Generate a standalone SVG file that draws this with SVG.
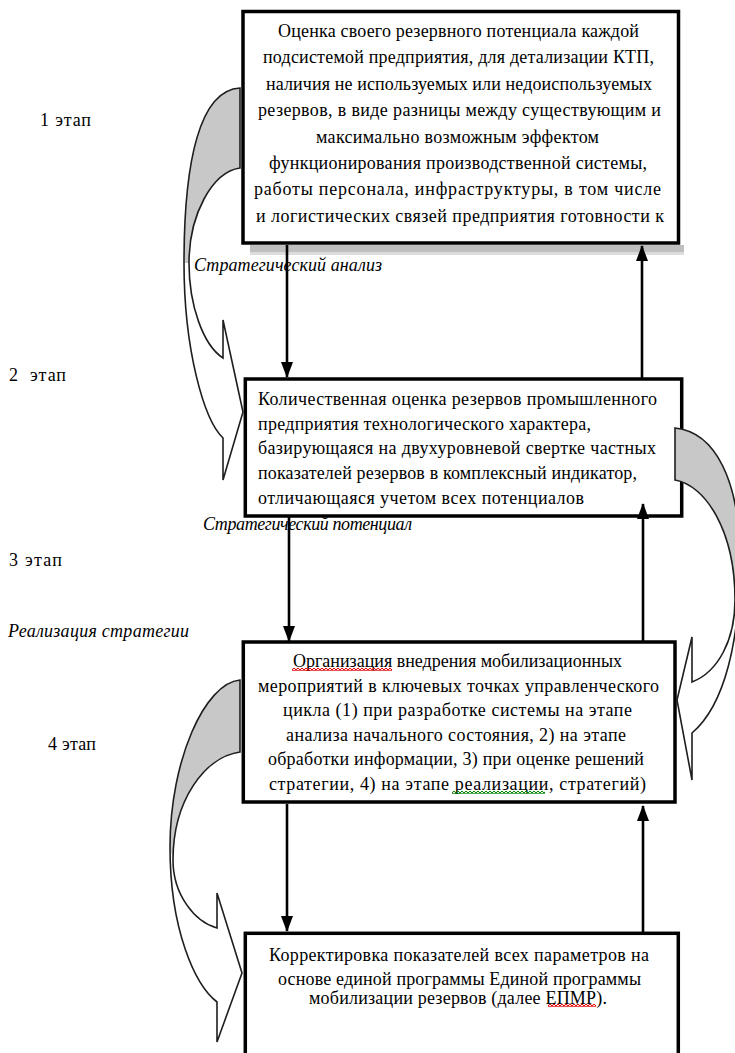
<svg xmlns="http://www.w3.org/2000/svg" width="735" height="1053" viewBox="0 0 735 1053" font-family="Liberation Serif, DejaVu Serif, serif">
<style>
.box{fill:#fff;stroke:#000;stroke-width:3.5}
.t{font-size:18px;fill:#000}
.it{font-style:italic}
.ribbon{fill:#c8c8c8;stroke:none}
.carrow{fill:none;stroke:#1e1e1e;stroke-width:1.6;stroke-linejoin:miter}
.vline{stroke:#000;stroke-width:2.6;fill:none;marker-end:url(#ah)}
</style>
<defs>
<marker id="ah" viewBox="0 0 16 12" refX="15" refY="6" markerWidth="16" markerHeight="12" markerUnits="userSpaceOnUse" orient="auto">
<path d="M0,0 L16,6 L0,12 Z" fill="#000"/>
</marker>
<pattern id="wavyR" width="4" height="3" patternUnits="userSpaceOnUse"><path d="M0,0 L2,3 L4,0" stroke="#e00000" stroke-width="1.2" fill="none"/></pattern>
<pattern id="wavyG" width="4" height="3" patternUnits="userSpaceOnUse"><path d="M0,0 L2,3 L4,0" stroke="#008000" stroke-width="1.2" fill="none"/></pattern>
</defs>
<rect width="735" height="1053" fill="#fff"/>

<g id="labels">
<text class="t" x="40" y="126" textLength="51" lengthAdjust="spacing">1 этап</text>
<text class="t" x="9" y="381" textLength="57" lengthAdjust="spacing" xml:space="preserve">2  этап</text>
<text class="t" x="9" y="566" textLength="53" lengthAdjust="spacing">3 этап</text>
<text class="t" x="48" y="750" textLength="48" lengthAdjust="spacing">4 этап</text>
<text class="t it" x="194" y="271" textLength="188" lengthAdjust="spacing">Стратегический анализ</text>
<text class="t it" x="203" y="530" textLength="209" lengthAdjust="spacing">Стратегический потенциал</text>
<text class="t it" x="8" y="637" textLength="181" lengthAdjust="spacing">Реализация стратегии</text>
</g>

<g id="box1">
<rect x="250" y="245" width="434" height="7" fill="#bfbfbf"/>
<rect x="250" y="252" width="434" height="3" fill="#dcdcdc"/>
<rect class="box" x="243" y="11.5" width="435.5" height="231.5"/>
<text class="t" x="278" y="37" textLength="361" lengthAdjust="spacing">Оценка своего резервного потенциала каждой</text>
<text class="t" x="263" y="63" textLength="391" lengthAdjust="spacing">подсистемой предприятия, для детализации КТП,</text>
<text class="t" x="266" y="90" textLength="386" lengthAdjust="spacing">наличия не используемых или недоиспользуемых</text>
<text class="t" x="258" y="116" textLength="403" lengthAdjust="spacing">резервов, в виде разницы между существующим и</text>
<text class="t" x="316" y="143" textLength="283" lengthAdjust="spacing">максимально возможным эффектом</text>
<text class="t" x="269" y="169" textLength="378" lengthAdjust="spacing">функционирования производственной системы,</text>
<text class="t" x="254" y="195" textLength="407" lengthAdjust="spacing">работы персонала, инфраструктуры, в том числе</text>
<text class="t" x="256" y="222" textLength="408" lengthAdjust="spacing">и логистических связей предприятия готовности к</text>
</g>

<g id="box2">
<rect class="box" x="245.3" y="379" width="436.4" height="137" stroke-width="3"/>
<text class="t" x="258" y="405" textLength="399" lengthAdjust="spacing">Количественная оценка резервов промышленного</text>
<text class="t" x="258" y="430" textLength="333" lengthAdjust="spacing">предприятия технологического характера,</text>
<text class="t" x="258" y="454" textLength="398" lengthAdjust="spacing">базирующаяся на двухуровневой свертке частных</text>
<text class="t" x="258" y="479" textLength="379" lengthAdjust="spacing">показателей резервов в комплексный индикатор,</text>
<text class="t" x="258" y="504" textLength="326" lengthAdjust="spacing">отличающаяся учетом всех потенциалов</text>
</g>

<g id="box3">
<rect class="box" x="243.3" y="642" width="431.7" height="160"/>
<text class="t" x="293" y="667" textLength="329" lengthAdjust="spacing">Организация внедрения мобилизационных</text>
<text class="t" x="258" y="692" textLength="401" lengthAdjust="spacing">мероприятий в ключевых точках управленческого</text>
<text class="t" x="283" y="716" textLength="349" lengthAdjust="spacing">цикла (1) при разработке системы на этапе</text>
<text class="t" x="286" y="741" textLength="340" lengthAdjust="spacing">анализа начального состояния, 2) на этапе</text>
<text class="t" x="268" y="765" textLength="376" lengthAdjust="spacing">обработки информации, 3) при оценке решений</text>
<text class="t" x="269" y="790" textLength="377" lengthAdjust="spacing">стратегии, 4) на этапе реализации, стратегий)</text>
<rect x="292" y="668" width="100" height="3" fill="url(#wavyR)"/>
<rect x="452" y="791" width="93" height="3" fill="url(#wavyG)"/>
</g>

<g id="box4">
<rect class="box" x="245.3" y="933.3" width="433" height="200"/>
<text class="t" x="269" y="961" textLength="380" lengthAdjust="spacing">Корректировка показателей всех параметров на</text>
<text class="t" x="278" y="985" textLength="363" lengthAdjust="spacing">основе единой программы Единой программы</text>
<text class="t" x="309" y="1004" textLength="298" lengthAdjust="spacing">мобилизации резервов (далее ЕПМР).</text>
<rect x="548" y="1004" width="48" height="3" fill="url(#wavyR)"/>
</g>

<g id="connectors">
<path class="ribbon" d="M240,88 C200,90 184,160 184,263 L189,263 C189,215 212,172 240,168 Z"/>
<path class="carrow" d="M240,88 C200,90 184,160 184,263 C184,350 204,420 223,438 L223,480 L243,412 L223,320 L223,358 C203,345 189,305 189,263 C189,215 212,172 240,168 Z"/>

<path class="ribbon" d="M675,428 C715,432 740,480 740,560 L735,600 C735,530 705,485 675,480 Z"/>
<path class="carrow" d="M675,428 C715,432 740,480 740,560 C740,640 725,705 692,733 L692,780 L677,700 L692,637 L692,682 C718,672 735,640 735,600 C735,530 705,485 675,480 Z"/>

<path class="ribbon" d="M240,680 C205,683 170,760 170,847 L173,860 C173,800 205,757 240,752 Z"/>
<path class="carrow" d="M240,680 C205,683 170,760 170,847 C170,930 195,985 217,1002 L217,1042 L242,973 L217,893 L217,928 C195,922 173,895 173,860 C173,800 205,757 240,752 Z"/>

<line class="vline" x1="287" y1="245" x2="287" y2="377"/>
<line class="vline" x1="642" y1="378" x2="642" y2="246"/>
<line class="vline" x1="289" y1="517" x2="289" y2="641"/>
<line class="vline" x1="643" y1="641" x2="643" y2="504"/>
<line class="vline" x1="287" y1="804" x2="287" y2="931"/>
<line class="vline" x1="643" y1="932" x2="643" y2="806"/>
</g>
</svg>
